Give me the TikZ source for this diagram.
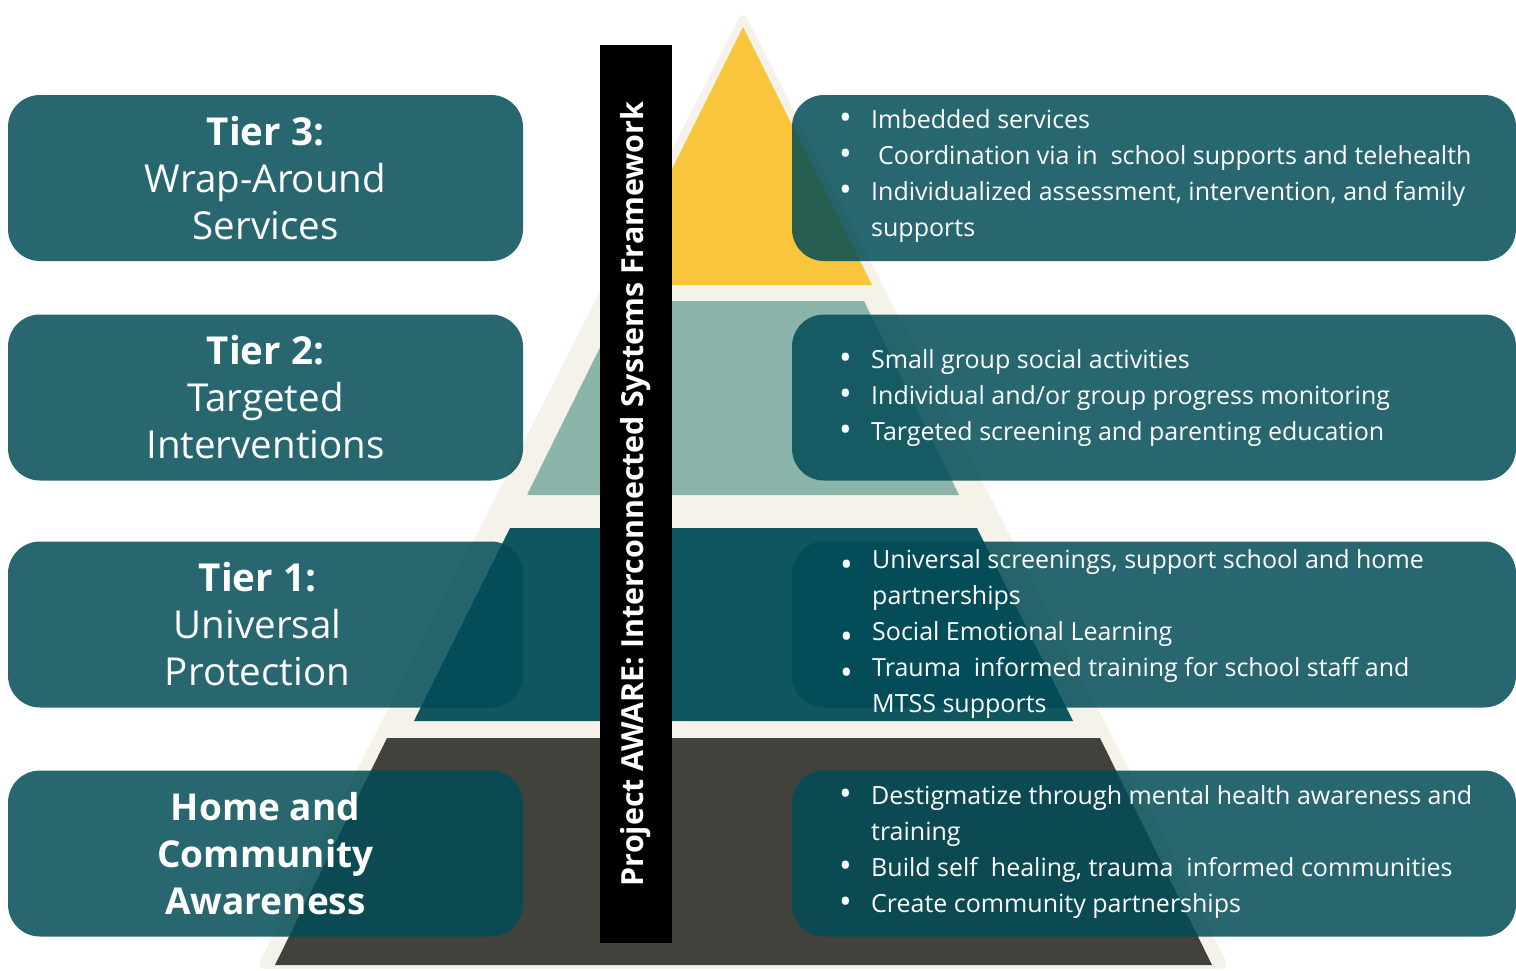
\documentclass[tikz,border=0pt]{standalone}
\usepackage{fontspec}
\setmainfont{Open Sans}
\definecolor{cream}{HTML}{F5F2EA}
\definecolor{tiergold}{HTML}{F9C53B}
\definecolor{tiersage}{HTML}{8BB5AA}
\definecolor{tierteal}{HTML}{10565F}
\definecolor{tiergray}{HTML}{42423D}
\definecolor{boxteal}{HTML}{024C57}
\newcommand{\bul}{\makebox[32pt][l]{\raisebox{-1.5pt}{\scalebox{1.35}{\textbullet}}}}
\newcommand{\lowbul}{\makebox[32pt][l]{\raisebox{-8pt}{\scalebox{1.35}{\textbullet}}}}
\newcommand{\cont}{\hspace*{32pt}}

\begin{document}
\begin{tikzpicture}[x=1pt,y=-1pt,
  tierbox/.style={fill=boxteal,fill opacity=0.85,rounded corners=32pt,minimum height=166pt,inner sep=0pt},
  tiertitle/.style={text=white,align=center,inner sep=0pt,font=\fontsize{38.5}{47}\selectfont},
  tierlist/.style={text=white,align=left,anchor=north west,inner sep=0pt,font=\fontsize{25}{36}\selectfont}]
\useasboundingbox (0,0) rectangle (1516,970);

% pyramid
\fill[cream,rounded corners=10pt] (743,10) -- (1230,969) -- (256,969) -- cycle;
\fill[tiergold] (743,27) -- (872,285) -- (614,285) -- cycle;
\fill[tiersage] (623,301) -- (864,301) -- (959,495) -- (527,495) -- cycle;
\fill[tierteal] (510,528) -- (977,528) -- (1073,721) -- (414,721) -- cycle;
\fill[tiergray] (387,738) -- (1100,738) -- (1212,965) -- (275,965) -- cycle;

% boxes
\node[tierbox,minimum width=515pt] (t3l) at (265.5,178) {};
\node[tierbox,minimum width=515pt] (t2l) at (265.5,397.5) {};
\node[tierbox,minimum width=515pt] (t1l) at (265.5,624.5) {};
\node[tierbox,minimum width=515pt] (t0l) at (265.5,853.5) {};
\node[tierbox,minimum width=724pt] (t3r) at (1154,178) {};
\node[tierbox,minimum width=724pt] (t2r) at (1154,397.5) {};
\node[tierbox,minimum width=724pt] (t1r) at (1154,624.5) {};
\node[tierbox,minimum width=724pt] (t0r) at (1154,853.5) {};

\node[fill=black,rotate=90,minimum width=898pt,minimum height=72pt,inner sep=0pt,
  text=white,font=\bfseries\fontsize{30.4}{36}\selectfont] (bar) at (636,494)
  {Project AWARE: Interconnected Systems Framework};

% left titles
\node[tiertitle] (t3title) at (t3l.center) {\textbf{Tier 3:}\\Wrap-Around\\Services};
\node[tiertitle] (t2title) at (t2l.center) {\textbf{Tier 2:}\\Targeted\\Interventions};
\node[tiertitle,xshift=-8pt] (t1title) at (t1l.center) {\textbf{Tier 1:}\\Universal\\Protection};
\node[tiertitle,font=\bfseries\fontsize{37}{47}\selectfont] (t0title) at (t0l.center) {Home and\\Community\\Awareness};

% right lists
\node[tierlist] (t3list) at (839,103) {\strut\bul Imbedded services\\
  \strut\bul\hspace{7pt}Coordination via in\ \ school supports and telehealth\\
  \strut\bul Individualized assessment, intervention, and family\\
  \strut\cont supports};
\node[tierlist] (t2list) at (839,343) {\strut\bul Small group social activities\\
  \strut\bul Individual and/or group progress monitoring\\
  \strut\bul Targeted screening and parenting education};
\node[tierlist] (t1list) at (840,543) {\strut\lowbul Universal screenings, support school and home\\
  \strut\cont partnerships\\
  \strut\lowbul Social Emotional Learning\\
  \strut\lowbul Trauma\ \ informed training for school staff and\\
  \strut\cont MTSS supports};
\node[tierlist] (t0list) at (839,779) {\strut\bul Destigmatize through mental health awareness and\\
  \strut\cont training\\
  \strut\bul Build self\ \ healing, trauma\ \ informed communities\\
  \strut\bul Create community partnerships};
\end{tikzpicture}
\end{document}
